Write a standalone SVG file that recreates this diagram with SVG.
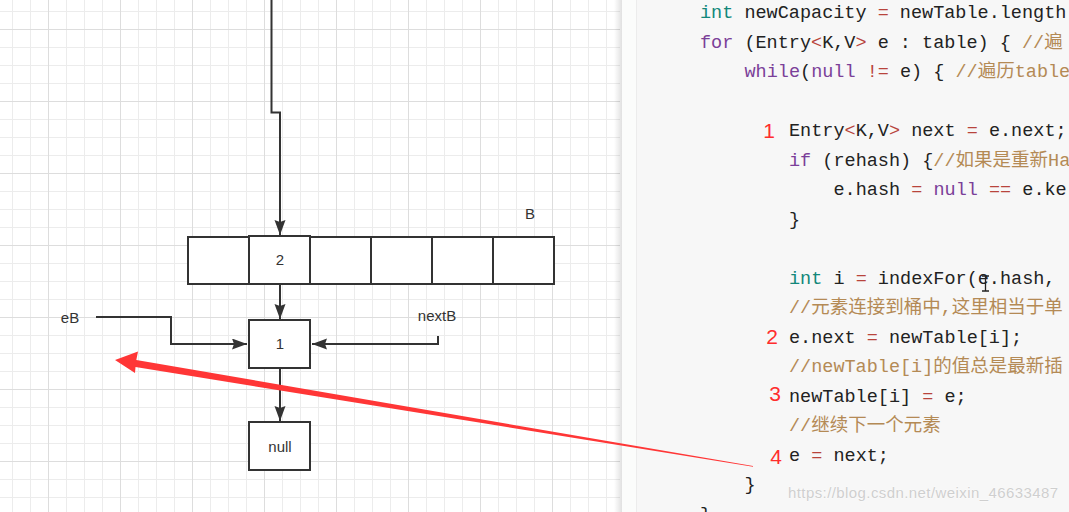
<svg xmlns="http://www.w3.org/2000/svg" width="1069" height="512" viewBox="0 0 1069 512">
<defs>
<pattern id="minor" patternUnits="userSpaceOnUse" x="12" y="11" width="18" height="18"><path d="M0.5 0V18M0 0.5H18" stroke="#ececec" stroke-width="1" fill="none"/></pattern>
<pattern id="major" patternUnits="userSpaceOnUse" x="48" y="29" width="72" height="72"><path d="M0.5 0V72M0 0.5H72" stroke="#dddddd" stroke-width="1" fill="none"/></pattern>
<linearGradient id="shadow" x1="0" x2="1" y1="0" y2="0"><stop offset="0" stop-color="#000" stop-opacity="0"/><stop offset="1" stop-color="#000" stop-opacity="0.12"/></linearGradient>
<marker id="arr" markerUnits="userSpaceOnUse" markerWidth="16" markerHeight="12" refX="15" refY="5.5" orient="auto"><path d="M0 0L15 5.5L0 11L2 5.5Z" fill="#333"/></marker>
<style>
.box{fill:#fff;stroke:#333;stroke-width:2}
.lbl{font-family:"Liberation Sans","Noto Sans",sans-serif;font-size:15px;fill:#333}
.mid{text-anchor:middle}
.conn{fill:none;stroke:#333;stroke-width:2}
.code{font-family:"Liberation Mono","Noto Sans CJK SC",monospace;font-size:18.5px;fill:#222}
.kw{fill:#7b3f99}
.ty{fill:#12877a}
.op{fill:#b8443c}
.cm{fill:#b48a55}
.num{font-family:"Liberation Sans","Noto Sans",sans-serif;font-size:21px;fill:#ff2d2d;text-anchor:middle}
</style>
</defs>
<rect x="0" y="0" width="1069" height="512" fill="#fff"/>
<rect x="0" y="0" width="620" height="512" fill="url(#minor)"/>
<rect x="0" y="0" width="620" height="512" fill="url(#major)"/>
<rect x="614" y="0" width="8" height="512" fill="url(#shadow)"/>
<rect x="622" y="0" width="15" height="512" fill="#fbfcfb"/>
<rect x="636" y="0" width="1" height="512" fill="#ececec"/>
<rect x="637" y="0" width="432" height="512" fill="#f7f7f7"/>

<g id="array">
<rect class="box" x="188" y="237" width="61" height="47"/>
<rect class="box" x="310" y="237" width="61" height="47"/>
<rect class="box" x="371" y="237" width="61" height="47"/>
<rect class="box" x="432" y="237" width="61" height="47"/>
<rect class="box" x="493" y="237" width="61" height="47"/>
</g>
<g id="cell2"><rect class="box" x="249" y="236" width="61" height="48"/><text class="lbl mid" x="280" y="265">2</text></g>
<g id="node1"><rect class="box" x="249" y="320" width="61" height="48"/><text class="lbl mid" x="280" y="349">1</text></g>
<g id="nodeNull"><rect class="box" x="249" y="422" width="61" height="48"/><text class="lbl mid" x="280" y="452">null</text></g>
<g id="labelB"><text class="lbl mid" x="530" y="219">B</text></g>
<g id="labelEB"><text class="lbl mid" x="70" y="323">eB</text></g>
<g id="labelNextB"><text class="lbl mid" x="437" y="321">nextB</text></g>

<g id="connectors">
<path class="conn" d="M271.5 0V112.5H280V235" marker-end="url(#arr)"/>
<path class="conn" d="M280 285V319" marker-end="url(#arr)"/>
<path class="conn" d="M96 317H171V344H247" marker-end="url(#arr)"/>
<path class="conn" d="M438 336V344H312" marker-end="url(#arr)"/>
<path class="conn" d="M280 369V421" marker-end="url(#arr)"/>
</g>

<g id="code" class="code" xml:space="preserve">
<text x="700" y="18"><tspan class="ty">int</tspan> newCapacity <tspan class="op">=</tspan> newTable.length</text>
<text x="700" y="47.5"><tspan class="kw">for</tspan> (Entry<tspan class="op">&lt;</tspan>K,V<tspan class="op">&gt;</tspan> e : table) { <tspan class="cm">//遍</tspan></text>
<text x="744.5" y="77"><tspan class="kw">while</tspan>(<tspan class="kw">null</tspan> <tspan class="op">!=</tspan> e) { <tspan class="cm">//遍历table</tspan></text>
<text x="789" y="136">Entry<tspan class="op">&lt;</tspan>K,V<tspan class="op">&gt;</tspan> next <tspan class="op">=</tspan> e.next;</text>
<text x="789" y="165.5"><tspan class="kw">if</tspan> (rehash) {<tspan class="cm">//如果是重新Ha</tspan></text>
<text x="833.5" y="195">e.hash <tspan class="op">=</tspan> <tspan class="kw">null</tspan> <tspan class="op">==</tspan> e.ke</text>
<text x="789" y="224.5">}</text>
<text x="789" y="283.5"><tspan class="ty">int</tspan> i <tspan class="op">=</tspan> indexFor(e.hash,</text>
<text x="789" y="313" class="cm">//元素连接到桶中,这里相当于单</text>
<text x="789" y="342.5">e.next <tspan class="op">=</tspan> newTable[i];</text>
<text x="789" y="372" class="cm">//newTable[i]的值总是最新插</text>
<text x="789" y="401.5">newTable[i] <tspan class="op">=</tspan> e;</text>
<text x="789" y="431" class="cm">//继续下一个元素</text>
<text x="789" y="460.5">e <tspan class="op">=</tspan> next;</text>
<text x="744.5" y="490">}</text>
<text x="700" y="519.5">}</text>
</g>
<g id="cursor" fill="none" stroke="#222" stroke-width="1.3"><path d="M982 276H989M985.5 276V291M982 291H989"/></g>

<g id="steps">
<text class="num" x="769" y="138">1</text>
<text class="num" x="772" y="344">2</text>
<text class="num" x="775" y="401">3</text>
<text class="num" x="776" y="464">4</text>
</g>

<text x="788" y="498" textLength="270" font-family="Liberation Sans, Noto Sans, sans-serif" font-size="15" fill="#cfcfcf" stroke="#fff" stroke-width="0.6" paint-order="stroke">https://blog.csdn.net/weixin_46633487</text>

<g id="redArrow"><path d="M115 360L138 351.5L136.3 360L753 466L753 466.8L135.5 367L135 373Z" fill="#ff3636"/></g>
</svg>
